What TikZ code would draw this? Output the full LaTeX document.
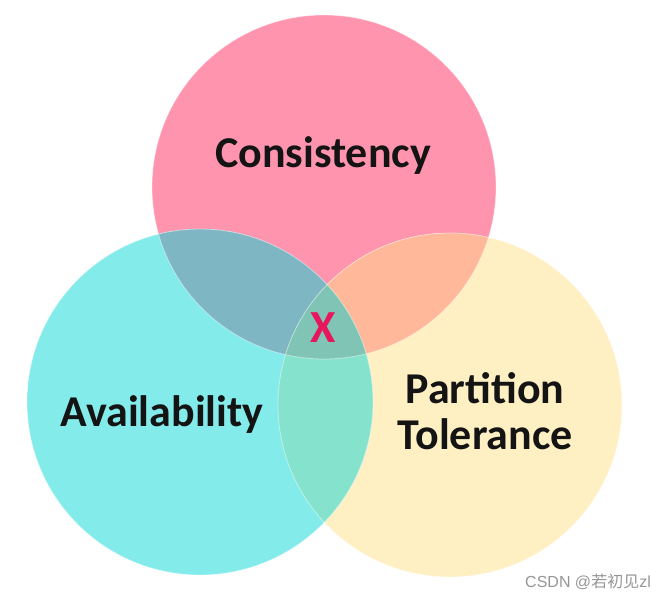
\documentclass[tikz,border=0pt]{standalone}
\usepackage{fontspec}
\setmainfont{Carlito}
\newfontfamily\cjk{Noto Sans CJK SC}
\newfontfamily\wmfont{Liberation Sans}
\definecolor{cpink}{RGB}{255,148,174}
\definecolor{ccyan}{RGB}{132,235,235}
\definecolor{cyel}{RGB}{255,240,196}
\definecolor{cpc}{RGB}{127,182,196}
\definecolor{cpy}{RGB}{255,185,154}
\definecolor{ccy}{RGB}{133,227,205}
\definecolor{cmid}{RGB}{127,196,180}
\definecolor{cxred}{RGB}{232,22,92}
\definecolor{cwm}{RGB}{150,150,150}
\tikzset{
  lbl/.style={font=\bfseries\fontsize{44}{48}\selectfont, text=black!92, align=center, inner sep=0pt},
  edge/.style={draw=white, draw opacity=0.45, line width=0.8pt}
}
\begin{document}
\begin{tikzpicture}[x=1pt,y=-1pt]
\useasboundingbox (0,0) rectangle (666,599);
\fill[white] (0,0) rectangle (666,599);
\def\Ppath{(324,187) circle[radius=172]}
\def\Cpath{(200,402) circle[radius=173]}
\def\Ypath{(450,405) circle[radius=172]}
% base circles
\fill[cpink] \Ppath;
\fill[cyel] \Ypath;
\fill[ccyan] \Cpath;
% pairwise overlaps
\begin{scope}\clip \Ppath; \fill[cpc] \Cpath; \end{scope}
\begin{scope}\clip \Ppath; \fill[cpy] \Ypath; \end{scope}
\begin{scope}\clip \Cpath; \fill[ccy] \Ypath; \end{scope}
\begin{scope}\clip \Ppath; \clip \Cpath; \fill[cmid] \Ypath; \end{scope}
% faint edges
\draw[edge] \Ppath; \draw[edge] \Cpath; \draw[edge] \Ypath;
% labels
\node[lbl, anchor=base] (cons) at (323,167) {Consistency};
\node[lbl, anchor=base] (avail) at (162,426) {Availability};
\node[lbl, anchor=base] (part) at (485,403) {Partition};
\node[lbl, anchor=base] (tol) at (485,449) {Tolerance};
\node[font=\bfseries\fontsize{46}{50}\selectfont, text=cxred, inner sep=0pt, anchor=base] (x) at (323,342) {X};
\node[font=\fontsize{16}{18}\selectfont, text=cwm, inner sep=0pt, anchor=base east] (wm) at (651,587) {\wmfont CSDN @\cjk 若初见\wmfont zl};
\end{tikzpicture}
\end{document}
